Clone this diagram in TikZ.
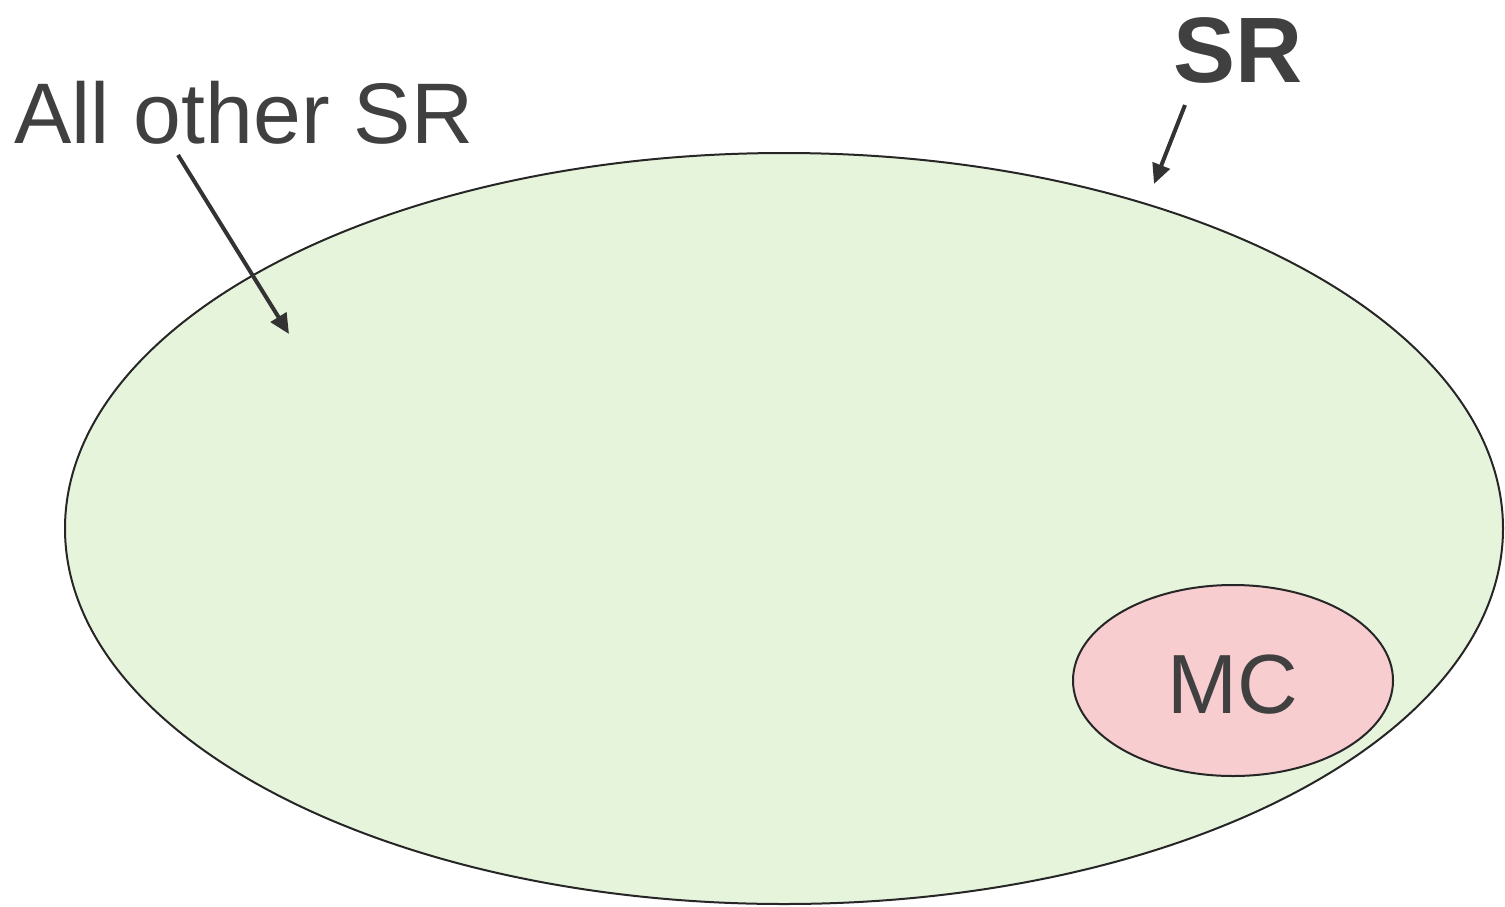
\documentclass[tikz,border=0pt]{standalone}
\usepackage{fontspec}
\setmainfont{Liberation Sans}
\usetikzlibrary{arrows.meta}
\definecolor{txt}{HTML}{404040}
\definecolor{srfill}{HTML}{E7F4DC}
\definecolor{mcfill}{HTML}{F7CDD0}
\definecolor{edge}{HTML}{262626}
\tikzset{
  setshape/.style={draw=edge, line width=1pt},
  label/.style={text=txt, inner sep=0pt, anchor=base west},
  pointer/.style={draw=txt!80!black, line width=2pt, -{Triangle[length=10pt,width=9pt]}}
}
\begin{document}
\begin{tikzpicture}[x=0.5pt,y=-0.5pt]
\useasboundingbox (0,0) rectangle (1505,906);
\draw[setshape, fill=srfill] (784,528.5) ellipse [x radius=719, y radius=375.5];
\draw[setshape, fill=mcfill] (1233,680.5) ellipse [x radius=160, y radius=95.5];
\coordinate (sr) at (784,528.5);
\coordinate (mc) at (1233,680.5);
\node[label, font=\fontsize{43pt}{48pt}\selectfont] (allother) at (14,143) {All other SR};
\node[label, font=\fontsize{46.5pt}{50pt}\selectfont\bfseries] (srlab) at (1173,82) {SR};
\node[label, font=\fontsize{42pt}{46pt}\selectfont] (mclab) at (1167,713) {MC};
\coordinate (a1s) at (178,155);
\coordinate (a1e) at (289,334);
\coordinate (a2s) at (1185,105);
\coordinate (a2e) at (1154,184);
\draw[pointer] (a1s) -- (a1e);
\draw[pointer] (a2s) -- (a2e);
\end{tikzpicture}
\end{document}
